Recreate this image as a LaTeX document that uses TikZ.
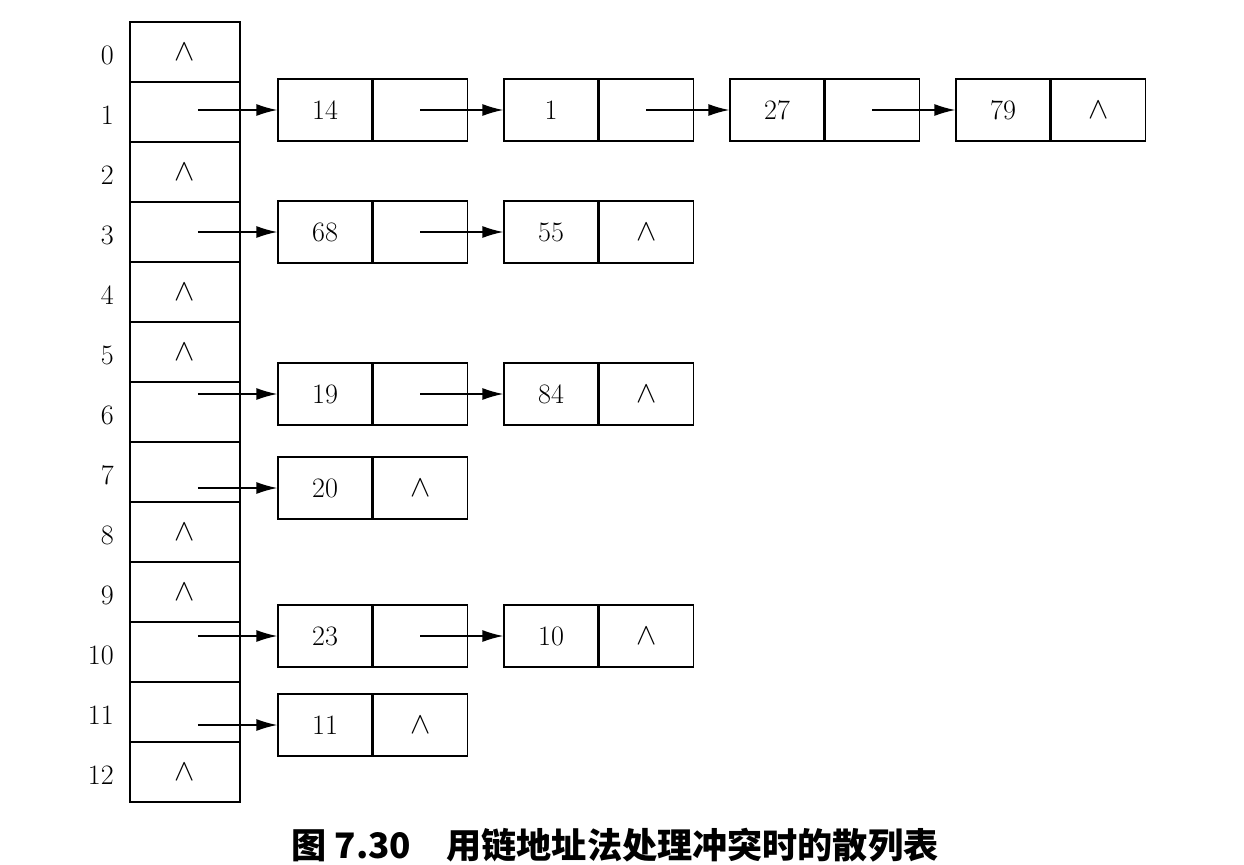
\documentclass[tikz,border=0pt]{standalone}
\usepackage{fontspec}
\usetikzlibrary{arrows.meta}
\newfontfamily\cjk{Noto Sans CJK SC}
\begin{document}
\begin{tikzpicture}[x=0.02cm, y=-0.02cm, >={Latex[length=0.42cm, width=0.24cm]},
  cell/.style={draw, thick, minimum width=2.2cm, minimum height=1.2cm, inner sep=0pt,
    font=\fontsize{16}{19}\selectfont},
  field/.style={draw, thick, minimum width=1.88cm, minimum height=1.24cm, inner sep=0pt,
    font=\fontsize{16}{19}\selectfont},
  link/.style={->, thick}]
\useasboundingbox (0,0) rectangle (1244,865);

\foreach \i in {0,...,12}
  \node [cell] (t-\i) at (185,52+60*\i) {};

\foreach \i in {0,2,4,5,8,9,12}
  \node [font=\fontsize{16}{19}\selectfont] (nil-\i) at (t-\i) {$\wedge$};

\foreach \i in {0,...,12}
  \node [font=\fontsize{16}{19}\selectfont, anchor=east] (idx-\i) at (120,55+60*\i) {\i};

% chains: row / y / keys / length
\foreach \r/\yy/\keys/\n in {1/110/{14,1,27,79}/4, 3/232/{68,55}/2, 6/394/{19,84}/2,
    7/488/{20}/1, 10/636/{23,10}/2, 11/725/{11}/1} {
  \foreach \v [count=\k, remember=\k as \prev (initially 0)] in \keys {
    \node [field] (c-\r-\k-k) at (325+226*\k-226,\yy) {\v};
    \node [field, anchor=west] (c-\r-\k-p) at (c-\r-\k-k.east) {\ifnum\k=\n $\wedge$\fi};
    \ifnum\k=1
      \draw [link] ([xshift=0.26cm]t-\r.center |- c-\r-1-k.west) -- (c-\r-1-k.west);
    \else
      \draw [link] (c-\r-\prev-p.center) -- (c-\r-\k-k.west);
    \fi
  }
}

\node [font=\cjk\bfseries\fontsize{20}{24}\selectfont] (caption) at (615,845)
  {图 7.30\quad 用链地址法处理冲突时的散列表};
\end{tikzpicture}
\end{document}
